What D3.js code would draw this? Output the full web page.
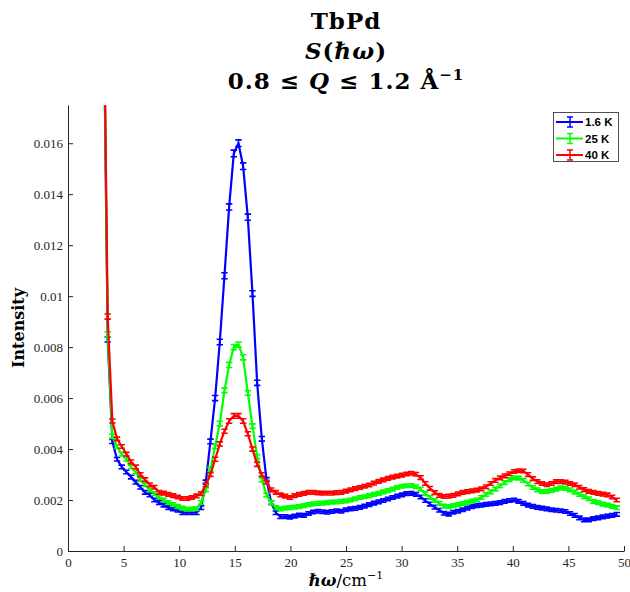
<!DOCTYPE html>
<html>
<head>
<meta charset="utf-8">
<script src="https://cdn.jsdelivr.net/npm/d3@7"></script>
<style>
	body { margin: 0; background: #fff; }
</style>
</head>
<body>
<svg id="chart" width="630" height="592"></svg>
<script>

// energy transfer, cm^-1
const ENERGY = [
	3.15, 3.57, 3.99, 4.41, 4.83, 5.25, 5.67, 6.09, 6.51, 6.93,
	7.35, 7.77, 8.19, 8.61, 9.03, 9.45, 9.87, 10.29, 10.71, 11.13,
	11.55, 11.97, 12.39, 12.81, 13.23, 13.65, 14.07, 14.49, 14.91, 15.33,
	15.75, 16.17, 16.59, 17.01, 17.43, 17.85, 18.27, 18.69, 19.11, 19.53,
	19.95, 20.37, 20.79, 21.21, 21.63, 22.05, 22.47, 22.89, 23.31, 23.73,
	24.15, 24.57, 24.99, 25.41, 25.83, 26.25, 26.67, 27.09, 27.51, 27.93,
	28.35, 28.77, 29.19, 29.61, 30.03, 30.45, 30.87, 31.29, 31.71, 32.13,
	32.55, 32.97, 33.39, 33.81, 34.23, 34.65, 35.07, 35.49, 35.91, 36.33,
	36.75, 37.17, 37.59, 38.01, 38.43, 38.85, 39.27, 39.69, 40.11, 40.53,
	40.95, 41.37, 41.79, 42.21, 42.63, 43.05, 43.47, 43.89, 44.31, 44.73,
	45.15, 45.57, 45.99, 46.41, 46.83, 47.25, 47.67, 48.09, 48.51, 48.93,
	49.35
];

const S_1_6K = [
	0.0238, 0.0083, 0.0043, 0.0036, 0.0033, 0.0031, 0.0029, 0.0027, 0.0025, 0.0023,
	0.0022, 0.0020, 0.0019, 0.0018, 0.0017, 0.00165, 0.0016, 0.0015, 0.0015, 0.0015,
	0.0015, 0.0017, 0.0027, 0.0043, 0.0060, 0.0082, 0.0108, 0.0135, 0.0156, 0.0160,
	0.0151, 0.0131, 0.0101, 0.0066, 0.0044, 0.0028, 0.0019, 0.0015, 0.00135, 0.00135,
	0.00133, 0.00137, 0.00141, 0.00140, 0.00147, 0.00153, 0.00156, 0.00154, 0.00152, 0.00155,
	0.00158, 0.00156, 0.00162, 0.00165, 0.00167, 0.00171, 0.00176, 0.00182, 0.00188, 0.00193,
	0.00198, 0.00204, 0.00210, 0.00215, 0.00220, 0.00225, 0.00226, 0.00222, 0.00212, 0.00198,
	0.00184, 0.00172, 0.00160, 0.00148, 0.00145, 0.00152, 0.00156, 0.00162, 0.00168, 0.00174,
	0.00178, 0.00180, 0.00183, 0.00185, 0.00187, 0.00190, 0.00195, 0.00198, 0.00200, 0.00195,
	0.00187, 0.00180, 0.00175, 0.00171, 0.00168, 0.00165, 0.00162, 0.00160, 0.00158, 0.00155,
	0.00147, 0.00140, 0.00130, 0.00122, 0.00122, 0.00127, 0.00130, 0.00134, 0.00137, 0.00140,
	0.00144
];

const S_25K = [
	0.0240, 0.0085, 0.0045, 0.0041, 0.0038, 0.0036, 0.0033, 0.0031, 0.0028, 0.0026,
	0.0024, 0.00225, 0.0021, 0.0020, 0.0019, 0.00182, 0.00174, 0.00168, 0.00164, 0.00164,
	0.00166, 0.0019, 0.0024, 0.0032, 0.0041, 0.0050, 0.0063, 0.0073, 0.0080, 0.0081,
	0.0076, 0.0062, 0.0049, 0.0037, 0.0028, 0.0022, 0.0019, 0.0017, 0.00165, 0.00168,
	0.00170, 0.00172, 0.00174, 0.00178, 0.00182, 0.00185, 0.00187, 0.00188, 0.00190, 0.00192,
	0.00193, 0.00195, 0.00197, 0.00200, 0.00205, 0.00210, 0.00213, 0.00217, 0.00222, 0.00226,
	0.00232, 0.00237, 0.00243, 0.00249, 0.00254, 0.00256, 0.00257, 0.00252, 0.00243, 0.00225,
	0.00210, 0.00198, 0.00187, 0.00176, 0.00174, 0.00178, 0.00182, 0.00186, 0.00191, 0.00196,
	0.00200, 0.00210, 0.00222, 0.00232, 0.00243, 0.00256, 0.00268, 0.00280, 0.00287, 0.00286,
	0.00277, 0.00263, 0.00249, 0.00240, 0.00233, 0.00234, 0.00238, 0.00243, 0.00248, 0.00246,
	0.00240, 0.00231, 0.00222, 0.00213, 0.00205, 0.00195, 0.00190, 0.00184, 0.00180, 0.00175,
	0.00170
];

const S_40K = [
	0.0245, 0.0092, 0.0051, 0.0044, 0.0041, 0.0038, 0.0035, 0.0033, 0.0030, 0.0028,
	0.0026, 0.0025, 0.0023, 0.00227, 0.00222, 0.00217, 0.00212, 0.00206, 0.00206, 0.00210,
	0.00216, 0.00225, 0.0026, 0.0030, 0.0036, 0.0042, 0.0047, 0.0051, 0.0053, 0.0053,
	0.0051, 0.0046, 0.0040, 0.0034, 0.0030, 0.0027, 0.0024, 0.0023, 0.0022, 0.00215,
	0.00210, 0.00217, 0.00222, 0.00226, 0.00230, 0.00230, 0.00228, 0.00227, 0.00227, 0.00227,
	0.00229, 0.00230, 0.00235, 0.00240, 0.00245, 0.00249, 0.00254, 0.00259, 0.00266, 0.00273,
	0.00279, 0.00285, 0.00290, 0.00294, 0.00298, 0.00302, 0.00305, 0.00301, 0.00288, 0.00265,
	0.00246, 0.00229, 0.00218, 0.00214, 0.00215, 0.00218, 0.00224, 0.00230, 0.00233, 0.00236,
	0.00239, 0.00244, 0.00252, 0.00265, 0.00277, 0.00287, 0.00295, 0.00303, 0.00312, 0.00315,
	0.00314, 0.00300, 0.00284, 0.00272, 0.00265, 0.00260, 0.00265, 0.00272, 0.00272, 0.00270,
	0.00265, 0.00260, 0.00250, 0.00241, 0.00234, 0.00230, 0.00226, 0.00223, 0.00220, 0.00212,
	0.00200
];

// error bars, units of 1e-5
const ERR_1_6K = [
	15, 10, 8, 7, 7, 7, 7, 7, 7, 7,
	7, 7, 7, 7, 7, 7, 7, 7, 7, 7,
	7, 7, 8, 9, 10, 11, 12, 12, 13, 13,
	13, 12, 11, 10, 9, 8, 7, 7, 7, 7,
	7, 7, 7, 7, 7, 7, 7, 7, 7, 7,
	7, 7, 7, 7, 7, 7, 7, 7, 7, 7,
	7, 7, 7, 7, 7, 7, 7, 7, 7, 7,
	7, 7, 7, 7, 7, 7, 7, 7, 7, 7,
	7, 7, 7, 7, 7, 7, 7, 7, 7, 7,
	7, 7, 7, 7, 7, 7, 7, 7, 7, 7,
	7, 7, 7, 7, 7, 7, 7, 7, 7, 7,
	7
];
const ERR_25K = [
	15, 10, 8, 7, 7, 7, 7, 7, 7, 7,
	7, 7, 7, 7, 7, 7, 7, 7, 7, 7,
	7, 7, 7, 8, 8, 9, 9, 10, 10, 10,
	10, 9, 9, 8, 8, 7, 7, 7, 7, 7,
	7, 7, 7, 7, 7, 7, 7, 7, 7, 7,
	7, 7, 7, 7, 7, 7, 7, 7, 7, 7,
	7, 7, 7, 7, 7, 7, 7, 7, 7, 7,
	7, 7, 7, 7, 7, 7, 7, 7, 7, 7,
	7, 7, 7, 7, 7, 7, 7, 7, 7, 7,
	7, 7, 7, 7, 7, 7, 7, 7, 7, 7,
	7, 7, 7, 7, 7, 7, 7, 7, 7, 7,
	7
];
const ERR_40K = [
	15, 10, 8, 7, 7, 7, 7, 7, 7, 7,
	7, 7, 7, 7, 7, 7, 7, 7, 7, 7,
	7, 7, 7, 7, 8, 8, 8, 9, 9, 9,
	9, 8, 8, 8, 7, 7, 7, 7, 7, 7,
	7, 7, 7, 7, 7, 7, 7, 7, 7, 7,
	7, 7, 7, 7, 7, 7, 7, 7, 7, 7,
	7, 7, 7, 7, 7, 7, 7, 7, 7, 7,
	7, 7, 7, 7, 7, 7, 7, 7, 7, 7,
	7, 7, 7, 7, 7, 7, 7, 7, 7, 7,
	7, 7, 7, 7, 7, 7, 7, 7, 7, 7,
	7, 7, 7, 7, 7, 7, 7, 7, 7, 7,
	7
];

const SERIES_NAMES = ['1.6 K', '25 K', '40 K'];
const SERIES_COLORS = ['#0000ff', '#00ff00', '#ff0000'];
const X_TICKS = [0, 5, 10, 15, 20, 25, 30, 35, 40, 45, 50];
const Y_TICKS = [0, 0.002, 0.004, 0.006, 0.008, 0.01, 0.012, 0.014, 0.016];

const SERIF = "'DejaVu Serif', serif";
const TICKFONT = "'Liberation Serif', 'Times New Roman', serif";
const INK = '#262626';

const svg = d3.select('#chart');
const x = d3.scaleLinear().domain([0, 50]).range([68, 624]);
const y = d3.scaleLinear().domain([0, 0.0175]).range([551, 105]);

svg.append('defs').append('clipPath').attr('id', 'plot-clip')
	.append('rect')
	.attr('x', x(0)).attr('y', y(0.0175))
	.attr('width', x(50) - x(0)).attr('height', y(0) - y(0.0175));

const plot = svg.append('g').attr('clip-path', 'url(#plot-clip)');

const allSeries = [
	{ values: S_1_6K, err: ERR_1_6K },
	{ values: S_25K, err: ERR_25K },
	{ values: S_40K, err: ERR_40K }
];

const line = d3.line().x(d => x(d.e)).y(d => y(d.v));
const CAP = 3.2;

allSeries.forEach((s, i) => {
	const pts = ENERGY.map((e, j) => ({ e: e, v: s.values[j], err: s.err[j] * 1e-5 }));
	const g = plot.append('g');
	g.append('path')
		.attr('d', line(pts))
		.attr('fill', 'none')
		.attr('stroke', SERIES_COLORS[i])
		.attr('stroke-width', 2.2)
		.attr('stroke-linejoin', 'round');
	const bars = pts.map(d => {
		const px = x(d.e), lo = y(d.v - d.err), hi = y(d.v + d.err);
		return `M${px},${lo}V${hi}M${px - CAP},${lo}H${px + CAP}M${px - CAP},${hi}H${px + CAP}`;
	}).join('');
	g.append('path')
		.attr('d', bars)
		.attr('fill', 'none')
		.attr('stroke', SERIES_COLORS[i])
		.attr('stroke-width', 1.6);
});

// axes, ticks pointing inward like matlab
const xAxis = d3.axisBottom(x).tickValues(X_TICKS).tickSize(-5).tickSizeOuter(0).tickPadding(7);
const yAxis = d3.axisLeft(y).tickValues(Y_TICKS).tickSize(-5).tickSizeOuter(0).tickPadding(5)
	.tickFormat(d => String(+d.toFixed(3)));

[svg.append('g').attr('transform', 'translate(0,551)').call(xAxis),
 svg.append('g').attr('transform', 'translate(68,0)').call(yAxis)].forEach(ax => {
	ax.select('.domain').attr('stroke', INK).attr('stroke-width', 1);
	ax.selectAll('.tick line').attr('stroke', INK);
	ax.selectAll('.tick text')
		.attr('fill', INK)
		.attr('font-family', TICKFONT)
		.attr('font-size', 13);
});

// title
const title = svg.append('text')
	.attr('text-anchor', 'middle')
	.attr('font-family', SERIF)
	.attr('font-weight', 'bold')
	.attr('font-size', 23)
	.attr('letter-spacing', 1)
	.attr('fill', '#000');
title.append('tspan').attr('x', 346).attr('y', 29).text('TbPd');
const t2 = title.append('tspan').attr('x', 346).attr('y', 59);
t2.append('tspan').attr('font-style', 'italic').text('S');
t2.append('tspan').text('(');
t2.append('tspan').attr('font-style', 'italic').text('ℏω');
t2.append('tspan').text(')');
const t3 = title.append('tspan').attr('x', 346).attr('y', 89);
t3.append('tspan').text('0.8 ≤ ');
t3.append('tspan').attr('font-style', 'italic').text('Q');
t3.append('tspan').text(' ≤ 1.2 Å');
t3.append('tspan').attr('font-size', 15).attr('dy', -9).text('−1');

// axis labels
svg.append('text')
	.attr('transform', 'translate(24,328) rotate(-90)')
	.attr('text-anchor', 'middle')
	.attr('font-family', SERIF)
	.attr('font-weight', 'bold')
	.attr('font-size', 16)
	.text('Intensity');

const xl = svg.append('text')
	.attr('x', 346).attr('y', 586)
	.attr('text-anchor', 'middle')
	.attr('font-family', SERIF)
	.attr('font-weight', 'bold')
	.attr('font-size', 16.5);
xl.append('tspan').attr('font-style', 'italic').text('ℏω');
xl.append('tspan').attr('font-weight', 'normal').text('/cm');
xl.append('tspan').attr('font-weight', 'normal').attr('font-size', 11).attr('dy', -7).text('−1');

// legend
const legend = svg.append('g');
legend.append('rect')
	.attr('x', 553.5).attr('y', 112.5)
	.attr('width', 65).attr('height', 49)
	.attr('fill', '#fff')
	.attr('stroke', INK)
	.attr('stroke-width', 0.8);
SERIES_NAMES.forEach((name, i) => {
	const ly = 122 + i * 16.5;
	const c = SERIES_COLORS[i];
	legend.append('line')
		.attr('x1', 556).attr('x2', 583).attr('y1', ly).attr('y2', ly)
		.attr('stroke', c).attr('stroke-width', 2);
	legend.append('path')
		.attr('d', `M570,${ly - 5}V${ly + 5}M567,${ly - 5}H573M567,${ly + 5}H573`)
		.attr('stroke', c).attr('stroke-width', 1.5).attr('fill', 'none');
	legend.append('text')
		.attr('x', 585).attr('y', ly + 4)
		.attr('font-family', "'Liberation Sans', Arial, sans-serif")
		.attr('font-weight', 'bold')
		.attr('font-size', 11.5)
		.attr('fill', '#000')
		.text(name);
});

</script>
</body>
</html>
